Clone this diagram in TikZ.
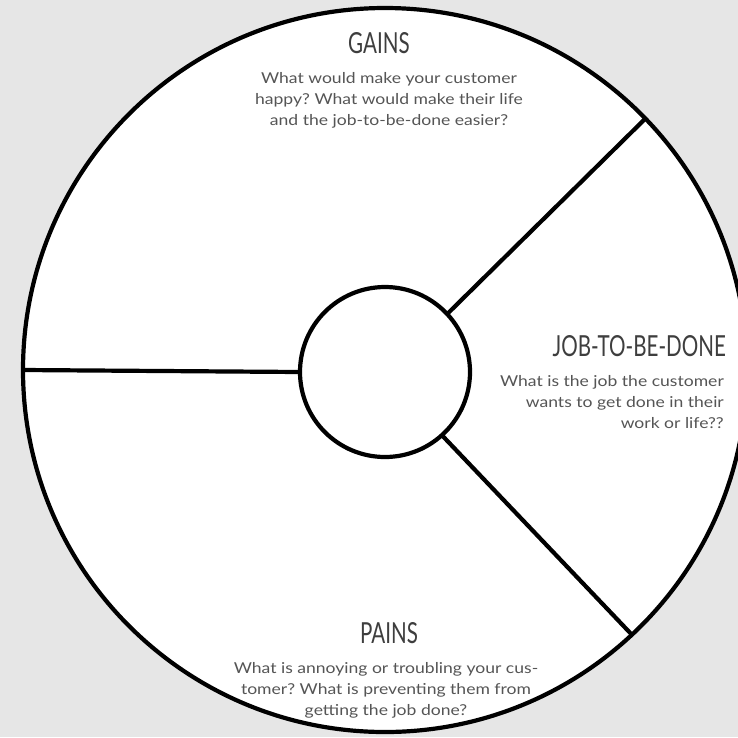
\documentclass[tikz,border=0pt]{standalone}
\usepackage{fontspec}
\setmainfont{Lato}
\newfontfamily\titlefont[FakeStretch=0.71]{Lato}
\newfontfamily\bodyfont[FakeStretch=1.17]{Lato}
\definecolor{bg}{RGB}{230,230,230}
\definecolor{txt}{RGB}{85,85,85}
\definecolor{ttl}{RGB}{62,62,62}
\frenchspacing
\begin{document}
\begin{tikzpicture}[x=1pt,y=-1pt,
  ring/.style={circle,draw=black,fill=white,line width=4.2pt,inner sep=0pt,outer sep=0pt},
  spoke/.style={line width=4.2pt,draw=black},
  title/.style={font=\titlefont\fontsize{29}{30}\selectfont,text=ttl,inner sep=0pt},
  body/.style={font=\bodyfont\fontsize{15}{21.2}\selectfont,text=txt,inner sep=0pt}]
\useasboundingbox (0,0) rectangle (738,737);
\fill[bg] (0,0) rectangle (738,737);
\clip (0,0) rectangle (738,737);
\node[ring,minimum size=724pt] (outer) at (385,370) {};
\node[ring,minimum size=170pt] (inner) at (385,372) {};
\draw[spoke] (inner.180) -- (outer.180);
\draw[spoke] (inner.43) -- (outer.44.8);
\draw[spoke] (inner.-48) -- (outer.-47.5);
\node[title] (gt) at (379,43) {GAINS};
\node[body,align=center,anchor=north] (gb) at (389,72) {What would make your customer\\happy? What would make their life\\and the job-to-be-done easier?};
\node[title,anchor=east] (jt) at (726,346) {JOB-TO-BE-DONE};
\node[body,align=right,anchor=north east] (jb) at (724,375) {What is the job the customer\\wants to get done in their\\work or life??};
\node[title] (pt) at (389,633) {PAINS};
\node[body,align=center,anchor=north] (pb) at (386,662) {What is annoying or troubling your cus-\\tomer? What is preventing them from\\getting the job done?};
\end{tikzpicture}
\end{document}
